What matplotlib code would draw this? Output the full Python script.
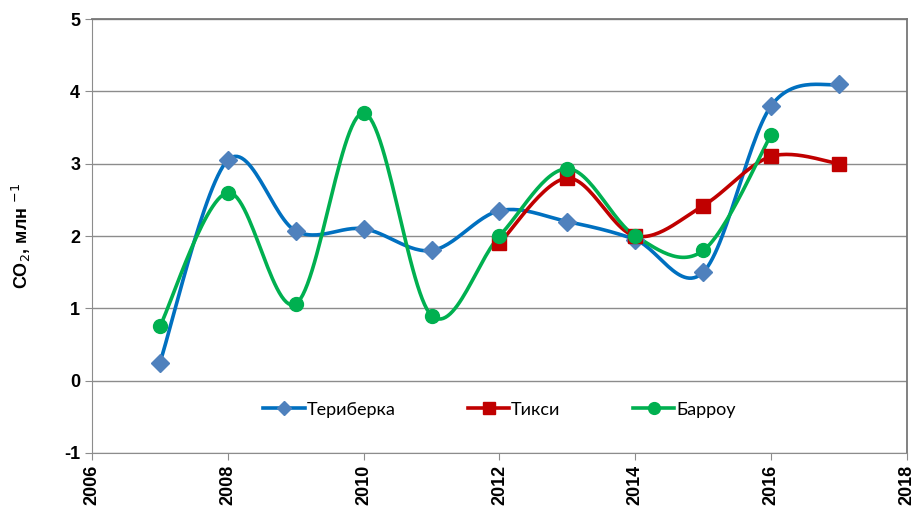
import numpy as np
import matplotlib
matplotlib.use('Agg')
import matplotlib.pyplot as plt
from matplotlib.lines import Line2D

plt.rcParams['axes.unicode_minus'] = False

years_t = [2007, 2008, 2009, 2010, 2011, 2012, 2013, 2014, 2015, 2016, 2017]
teriberka = [0.25, 3.05, 2.07, 2.1, 1.8, 2.35, 2.2, 1.95, 1.5, 3.8, 4.1]
years_k = [2012, 2013, 2014, 2015, 2016, 2017]
tiksi = [1.9, 2.8, 2.0, 2.42, 3.1, 3.0]
years_b = [2007, 2008, 2009, 2010, 2011, 2012, 2013, 2014, 2015, 2016]
barrow = [0.75, 2.6, 1.06, 3.7, 0.9, 2.0, 2.93, 2.0, 1.8, 3.4]


def smooth(x, y, n=30):
    # сглаживание как в Excel: кубические Безье по соседним точкам
    x = np.asarray(x, float)
    y = np.asarray(y, float)
    px, py = [], []
    for i in range(len(x) - 1):
        x0, y0 = (x[i - 1], y[i - 1]) if i > 0 else (x[i], y[i])
        x3, y3 = (x[i + 2], y[i + 2]) if i + 2 < len(x) else (x[i + 1], y[i + 1])
        c1 = (x[i] + (x[i + 1] - x0) / 6, y[i] + (y[i + 1] - y0) / 6)
        c2 = (x[i + 1] - (x3 - x[i]) / 6, y[i + 1] - (y3 - y[i]) / 6)
        t = np.linspace(0, 1, n)
        bx = (1 - t) ** 3 * x[i] + 3 * (1 - t) ** 2 * t * c1[0] + 3 * (1 - t) * t ** 2 * c2[0] + t ** 3 * x[i + 1]
        by = (1 - t) ** 3 * y[i] + 3 * (1 - t) ** 2 * t * c1[1] + 3 * (1 - t) * t ** 2 * c2[1] + t ** 3 * y[i + 1]
        px.extend(bx)
        py.extend(by)
    return px, py


fig = plt.figure(figsize=(9.18, 5.29), dpi=100)
ax = fig.add_axes([0.1002, 0.1437, 0.8878, 0.8203])

series = [
    ('Териберка', years_t, teriberka, '#0070C0', '#4F81BD', 'D', 9),
    ('Тикси', years_k, tiksi, '#C00000', '#C00000', 's', 10),
    ('Барроу', years_b, barrow, '#00B050', '#00B050', 'o', 10),
]
handles = []
for name, xs, ys, lc, mc, mk, ms in series:
    sx, sy = smooth(xs, ys)
    ax.plot(sx, sy, color=lc, lw=2.6, zorder=3, solid_capstyle='round')
    ax.plot(xs, ys, ls='none', marker=mk, ms=ms, color=mc, zorder=4)
    handles.append(Line2D([], [], color=lc, lw=2.6, marker=mk, ms=ms - 1.5, mfc=mc, mec=mc))

ax.set_xlim(2006, 2018)
ax.set_ylim(-1, 5)
ax.set_xticks(range(2006, 2019, 2))
ax.set_yticks(range(-1, 6))
ax.yaxis.grid(True, color='#8C8C8C', lw=1)
ax.set_axisbelow(True)
for s in ['top', 'right']:
    ax.spines[s].set_color('#777777')
    ax.spines[s].set_linewidth(1.3)
for s in ['left', 'bottom']:
    ax.spines[s].set_color('#8C8C8C')
ax.tick_params(axis='both', colors='#8C8C8C', length=5, direction='out')
ax.tick_params(axis='both', labelcolor='black')
for lab in ax.get_xticklabels():
    lab.set_rotation(90)
    lab.set_fontweight('bold')
    lab.set_fontsize(13)
    lab.set_family('Liberation Sans')
for lab in ax.get_yticklabels():
    lab.set_fontweight('bold')
    lab.set_fontsize(13)
    lab.set_family('Liberation Sans')

ax.set_ylabel('CO$_2$, млн $^{\\mathrm{-1}}$', fontsize=13, fontweight='bold',
              family='Liberation Sans', labelpad=22)

ax.legend(handles, [s[0] for s in series], loc='center', bbox_to_anchor=(0.5, 0.1), ncol=3,
          frameon=False, prop={'family': 'Lato', 'size': 13}, handlelength=2.3,
          handletextpad=0.1, columnspacing=4.0)

fig.savefig('out.png', dpi=100)
